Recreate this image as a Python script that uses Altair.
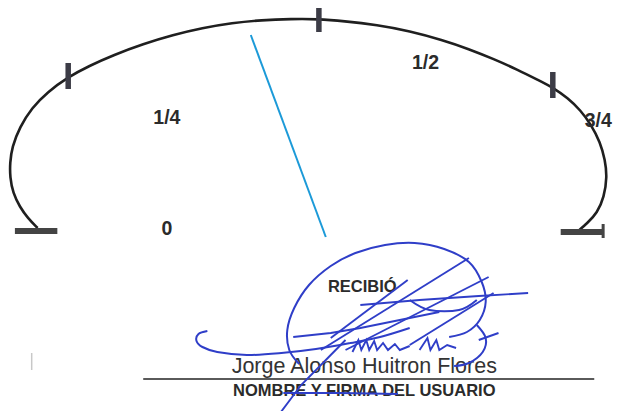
import altair as alt
import pandas as pd

# ---------------- gauge (traced in page pixels) ----------------
arc_x = [33, 23, 15, 8, 5, 5, 7, 15, 27, 43, 64, 85, 110, 140, 170, 200, 230, 260, 290, 317,
         343, 377, 410, 443, 470, 495, 520, 540, 556, 570, 583, 594, 603, 608, 610, 607, 600, 590, 582]
arc_y = [228, 218, 207, 193, 177, 163, 147, 127, 108, 92, 77, 66, 55, 44, 35, 28, 23, 20, 19, 19,
         21, 25, 31, 40, 49, 59, 70, 80, 88, 98, 110, 125, 142, 160, 177, 197, 213, 223, 230]

tick_x = [64, 318, 555]
tick_y1 = [63, 7, 72]
tick_y2 = [89, 32, 98]

stop_x1 = [10, 563]
stop_x2 = [53, 606]
stop_y = [231, 232]

cap_x = [606]
cap_y1 = [224]
cap_y2 = [238]

needle_x1 = [249]
needle_y1 = [35]
needle_x2 = [325]
needle_y2 = [237]

gauge_labels = ["0", "1/4", "1/2", "3/4"]
gauge_label_x = [164, 164, 426, 601]
gauge_label_y = [229, 118, 63, 121]

# ---------------- signature block ----------------
form_texts = ["RECIBIÓ", "NOMBRE Y FIRMA DEL USUARIO"]
form_text_x = [362, 364]
form_text_y = [287, 391]

name_text = ["Jorge Alonso Huitron Flores"]
name_x = [364]
name_y = [373]

line_x1 = [140]
line_x2 = [597]
line_y = [379]

mark_x = [27]
mark_y1 = [353]
mark_y2 = [370]

smooth_strokes = {
    "loop": ([450, 468, 481, 487, 483, 470, 445, 415, 385, 355, 330, 308, 293, 286, 288, 298],
             [337, 332, 320, 302, 282, 262, 249, 243, 245, 253, 266, 285, 308, 330, 350, 364]),
    "swoosh": ([205, 196, 194, 200, 215, 245, 280, 315, 350, 380, 410],
               [331, 334, 341, 347, 352, 355, 353, 349, 343, 337, 328]),
    "tail": ([478, 487, 484, 470, 455],
             [325, 338, 352, 363, 366]),
    "bowl": ([410, 430, 460, 478],
             [300, 310, 310, 300]),
}

straight_strokes = {
    "h1": ([292, 330, 360, 400, 440], [337, 333, 328, 320, 312]),
    "h2": ([360, 420, 480, 530], [305, 300, 296, 293]),
    "d0": ([330, 408], [338, 280]),
    "d1": ([320, 470], [350, 258]),
    "d2": ([345, 490], [350, 277]),
    "d3": ([410, 495], [345, 293]),
    "ystroke": ([275, 300, 330, 345], [418, 385, 355, 340]),
    "strike": ([282, 340, 398], [393, 393, 394]),
    "scrib1": ([352, 358, 361, 366, 369, 374, 377, 383, 388, 395, 400, 410],
               [352, 340, 350, 340, 350, 341, 350, 343, 350, 344, 350, 346]),
    "scrib2": ([420, 428, 431, 437, 440, 448, 457],
               [350, 338, 350, 340, 350, 345, 348]),
    "hook": ([480, 500], [340, 333]),
}

# ---------------- build tables ----------------
def strokes_df(d):
    rows = []
    for name, (xs, ys) in d.items():
        for i, (x, y) in enumerate(zip(xs, ys)):
            rows.append({"stroke": name, "i": i, "x": x, "y": y})
    return pd.DataFrame(rows)

arc_df = pd.DataFrame({"i": range(len(arc_x)), "x": arc_x, "y": arc_y})
tick_df = pd.DataFrame({"x": tick_x, "y": tick_y1, "y2": tick_y2})
stop_df = pd.DataFrame({"x": stop_x1, "x2": stop_x2, "y": stop_y})
cap_df = pd.DataFrame({"x": cap_x, "y": cap_y1, "y2": cap_y2})
needle_df = pd.DataFrame({"x": needle_x1, "y": needle_y1, "x2": needle_x2, "y2": needle_y2})
glabel_df = pd.DataFrame({"t": gauge_labels, "x": gauge_label_x, "y": gauge_label_y})
form_df = pd.DataFrame({"t": form_texts, "x": form_text_x, "y": form_text_y})
name_df = pd.DataFrame({"t": name_text, "x": name_x, "y": name_y})
line_df = pd.DataFrame({"x": line_x1, "x2": line_x2, "y": line_y})
mark_df = pd.DataFrame({"x": mark_x, "y": mark_y1, "y2": mark_y2})
smooth_df = strokes_df(smooth_strokes)
straight_df = strokes_df(straight_strokes)

xs = alt.Scale(domain=[3, 616], nice=False, zero=False)
ys = alt.Scale(domain=[8, 411], reverse=True, nice=False, zero=False)
X = alt.X("x:Q", scale=xs, axis=None)
Y = alt.Y("y:Q", scale=ys, axis=None)

INK = "#2b2b2b"
BLUE = "#2f3ec8"
FONT = "Liberation Sans"

arc = alt.Chart(arc_df).mark_line(color="#1f1f1f", strokeWidth=2.6, interpolate="basis").encode(
    x=X, y=Y, order="i:Q")
ticks = alt.Chart(tick_df).mark_rule(color="#3c3c46", strokeWidth=5.5).encode(x=X, y=Y, y2="y2:Q")
stops = alt.Chart(stop_df).mark_rule(color="#444444", strokeWidth=6).encode(x=X, x2="x2:Q", y=Y)
cap = alt.Chart(cap_df).mark_rule(color="#444444", strokeWidth=3).encode(x=X, y=Y, y2="y2:Q")
needle = alt.Chart(needle_df).mark_rule(color="#1c9ad8", strokeWidth=2).encode(
    x=X, y=Y, x2="x2:Q", y2="y2:Q")
glabels = alt.Chart(glabel_df).mark_text(font=FONT, fontSize=19.5, fontWeight="bold", color=INK,
                                          align="center", baseline="middle").encode(x=X, y=Y, text="t:N")

sig_smooth = alt.Chart(smooth_df).mark_line(color=BLUE, strokeWidth=2, interpolate="cardinal").encode(
    x=X, y=Y, detail="stroke:N", order="i:Q")
sig_straight = alt.Chart(straight_df).mark_line(color=BLUE, strokeWidth=1.9).encode(
    x=X, y=Y, detail="stroke:N", order="i:Q")

form = alt.Chart(form_df).mark_text(font=FONT, fontSize=16.5, fontWeight="bold", color=INK,
                                    align="center", baseline="middle").encode(x=X, y=Y, text="t:N")
name = alt.Chart(name_df).mark_text(font=FONT, fontSize=21.5, color="#333333",
                                    align="center", baseline="alphabetic").encode(x=X, y=Y, text="t:N")
uline = alt.Chart(line_df).mark_rule(color="#5a5a5a", strokeWidth=2).encode(x=X, x2="x2:Q", y=Y)
speck = alt.Chart(mark_df).mark_rule(color="#c8c8c8", strokeWidth=1.5).encode(x=X, y=Y, y2="y2:Q")

chart = alt.layer(
    arc, ticks, stops, cap, glabels, speck, form, name, uline, needle, sig_smooth, sig_straight
).properties(
    width=605, height=403, padding=0, autosize=alt.AutoSizeParams(type="none"),
    background="white"
).configure_view(stroke=None)

chart.save("out.html", embed_options={"renderer": "svg", "actions": False})
